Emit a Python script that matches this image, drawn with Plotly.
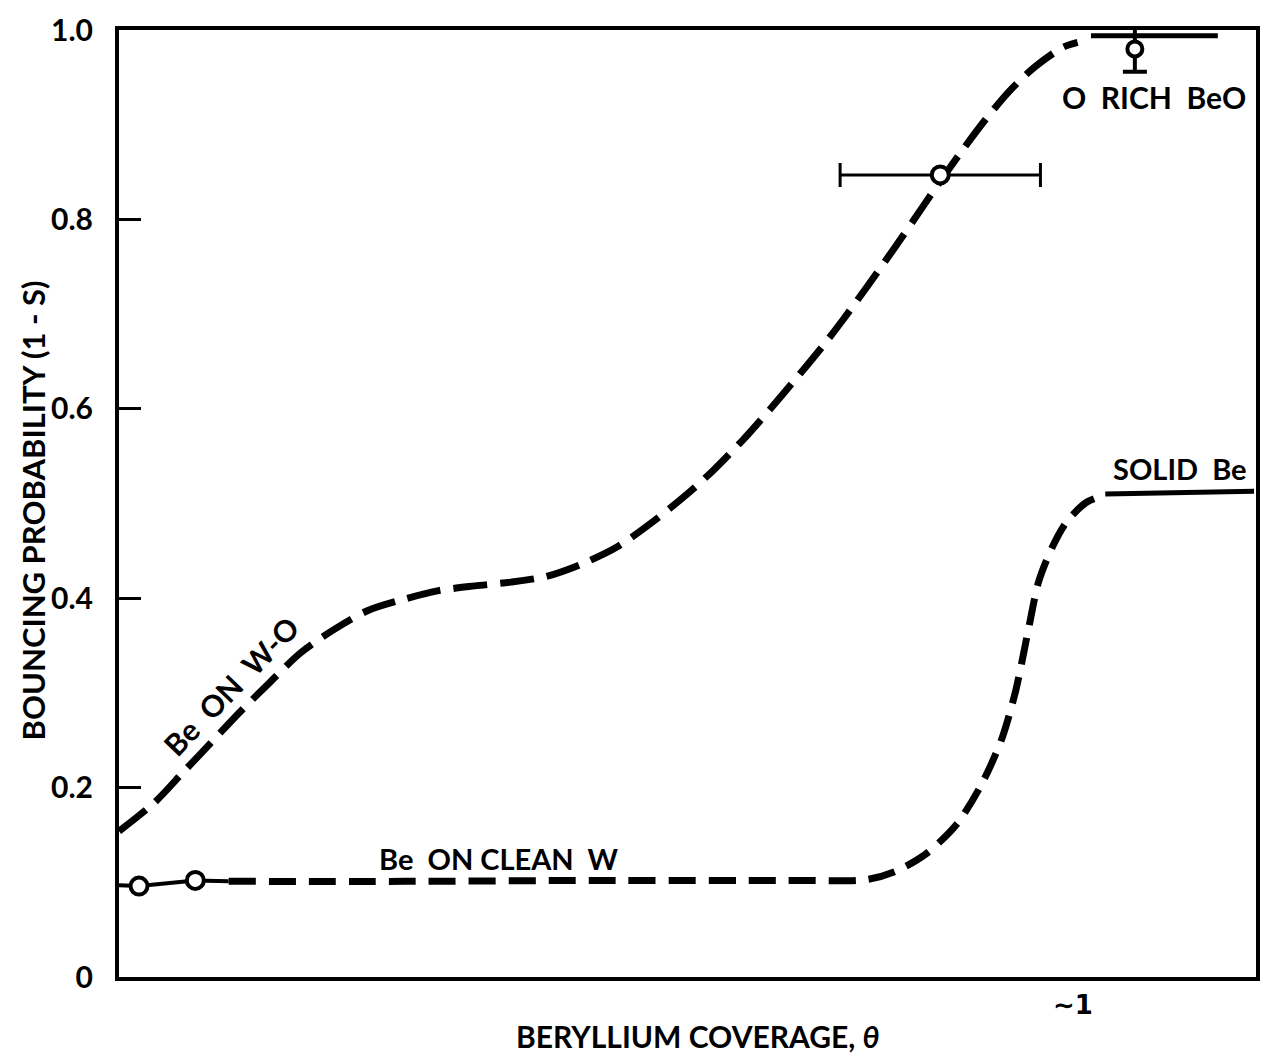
import plotly.graph_objects as go

# ---- data ----
# Be on W-O (dashed, upper curve)
wo_x = [0.0, 0.038, 0.067, 0.097, 0.126, 0.157, 0.190, 0.224, 0.261, 0.299, 0.335, 0.373,
        0.411, 0.448, 0.485, 0.522, 0.560, 0.598, 0.624, 0.654, 0.683, 0.714, 0.740, 0.759,
        0.785, 0.811, 0.833, 0.856, 0.882, 0.908, 0.934, 0.960, 0.990, 1.005]
wo_y = [0.154, 0.185, 0.216, 0.248, 0.279, 0.310, 0.342, 0.366, 0.387, 0.399, 0.408, 0.413,
        0.417, 0.423, 0.436, 0.454, 0.481, 0.512, 0.536, 0.567, 0.600, 0.637, 0.669, 0.694,
        0.730, 0.767, 0.799, 0.833, 0.870, 0.905, 0.936, 0.961, 0.982, 0.987]

# Be on clean W (solid start, dashed middle, solid "solid Be" plateau)
cw_solid_x = [0.0, 0.021, 0.080, 0.115]
cw_solid_y = [0.097, 0.096, 0.102, 0.101]
cw_x = [0.115, 0.30, 0.50, 0.70, 0.784, 0.815, 0.846, 0.878, 0.904, 0.925, 0.940, 0.953,
        0.964, 0.978, 0.993, 1.014, 1.034]
cw_y = [0.101, 0.101, 0.102, 0.102, 0.103, 0.112, 0.130, 0.161, 0.203, 0.250, 0.302, 0.365,
        0.417, 0.453, 0.480, 0.501, 0.509]
solid_be_x = [1.034, 1.19]
solid_be_y = [0.510, 0.513]

# measured points
clean_pts_x = [0.021, 0.080]
clean_pts_y = [0.096, 0.102]
wo_pt_x = [0.861]
wo_pt_y = [0.847]
wo_pt_xerr = [0.105]
beo_pt_x = [1.065]
beo_pt_y = [0.980]
beo_pt_yerr_plus = [0.035]
beo_pt_yerr_minus = [0.024]
beo_line_x = [1.019, 1.152]
beo_line_y = [0.994, 0.994]

ytick_vals = [0, 0.2, 0.4, 0.6, 0.8, 1.0]
ytick_text = ["0", "0.2", "0.4", "0.6", "0.8", "1.0"]
xtick_vals = [1.0]
xtick_text = ["∼1"]

FONT = "Lato"
BLACK = "#000000"

fig = go.Figure()

fig.add_trace(go.Scatter(x=wo_x, y=wo_y, mode="lines",
                         line=dict(color=BLACK, width=7, dash="34px,13px", shape="spline", smoothing=0.8),
                         hoverinfo="skip"))
fig.add_trace(go.Scatter(x=cw_solid_x, y=cw_solid_y, mode="lines",
                         line=dict(color=BLACK, width=4), hoverinfo="skip"))
fig.add_trace(go.Scatter(x=cw_x, y=cw_y, mode="lines",
                         line=dict(color=BLACK, width=7, dash="27px,13px", shape="spline", smoothing=0.8),
                         hoverinfo="skip"))
fig.add_trace(go.Scatter(x=solid_be_x, y=solid_be_y, mode="lines",
                         line=dict(color=BLACK, width=5), hoverinfo="skip"))
fig.add_trace(go.Scatter(x=beo_line_x, y=beo_line_y, mode="lines",
                         line=dict(color=BLACK, width=5), hoverinfo="skip"))

marker_style = dict(symbol="circle", size=17, color="white", line=dict(color=BLACK, width=4))
fig.add_trace(go.Scatter(x=clean_pts_x, y=clean_pts_y, mode="markers", marker=marker_style))
fig.add_trace(go.Scatter(x=wo_pt_x, y=wo_pt_y, mode="markers", marker=marker_style,
                         error_x=dict(type="data", array=wo_pt_xerr, color=BLACK, thickness=3, width=12)))
fig.add_trace(go.Scatter(x=beo_pt_x, y=beo_pt_y, mode="markers",
                         marker=dict(symbol="circle", size=15, color="white", line=dict(color=BLACK, width=4)),
                         error_y=dict(type="data", symmetric=False, array=beo_pt_yerr_plus,
                                      arrayminus=beo_pt_yerr_minus, color=BLACK, thickness=4, width=12)))

lbl = dict(family=FONT, size=29, color=BLACK, weight="bold")
fig.add_annotation(x=0.117, y=0.307, text="Be  ON  W-O", textangle=-46, showarrow=False,
                   font=dict(family=FONT, size=30, color=BLACK, weight="bold"))
fig.add_annotation(x=0.398, y=0.125, text="Be  ON CLEAN  W", showarrow=False, font=lbl)
fig.add_annotation(x=1.085, y=0.929, text="O  RICH  BeO", showarrow=False,
                   font=dict(family=FONT, size=30, color=BLACK, weight="bold"))
fig.add_annotation(x=1.112, y=0.537, text="SOLID  Be", showarrow=False, font=lbl)

# axis titles
fig.add_annotation(xref="paper", yref="paper", x=0.509, y=-0.062, xanchor="center", yanchor="middle",
                   text="BERYLLIUM COVERAGE, <i>θ</i>",
                   showarrow=False, font=dict(family=FONT, size=30, color=BLACK, weight="bold"))
fig.add_annotation(xref="paper", yref="paper", x=-0.0754, y=0.493, xanchor="center", yanchor="middle",
                   text="BOUNCING PROBABILITY (1 - S)",
                   textangle=-90, showarrow=False, font=dict(family=FONT, size=31, color=BLACK, weight="bold"))

fig.update_layout(
    width=1270, height=1060,
    margin=dict(l=119, r=10, t=20, b=83),
    paper_bgcolor="white", plot_bgcolor="white",
    showlegend=False,
)
fig.update_xaxes(range=[0, 1.192], showgrid=False, zeroline=False,
                 showline=True, linewidth=4, linecolor=BLACK, mirror=True,
                 tickmode="array", tickvals=xtick_vals, ticktext=xtick_text, ticks="",
                 ticklabelstandoff=2,
                 tickfont=dict(family="DejaVu Sans", size=26, color=BLACK, weight="bold"))
fig.update_yaxes(range=[0, 1.0], showgrid=False, zeroline=False,
                 showline=True, linewidth=4, linecolor=BLACK, mirror=True,
                 tickmode="array", tickvals=ytick_vals, ticktext=ytick_text,
                 ticks="inside", ticklen=22, tickwidth=3, tickcolor=BLACK,
                 ticklabelstandoff=16,
                 tickfont=dict(family=FONT, size=30, color=BLACK, weight="bold"))

fig.write_html("out.html")
